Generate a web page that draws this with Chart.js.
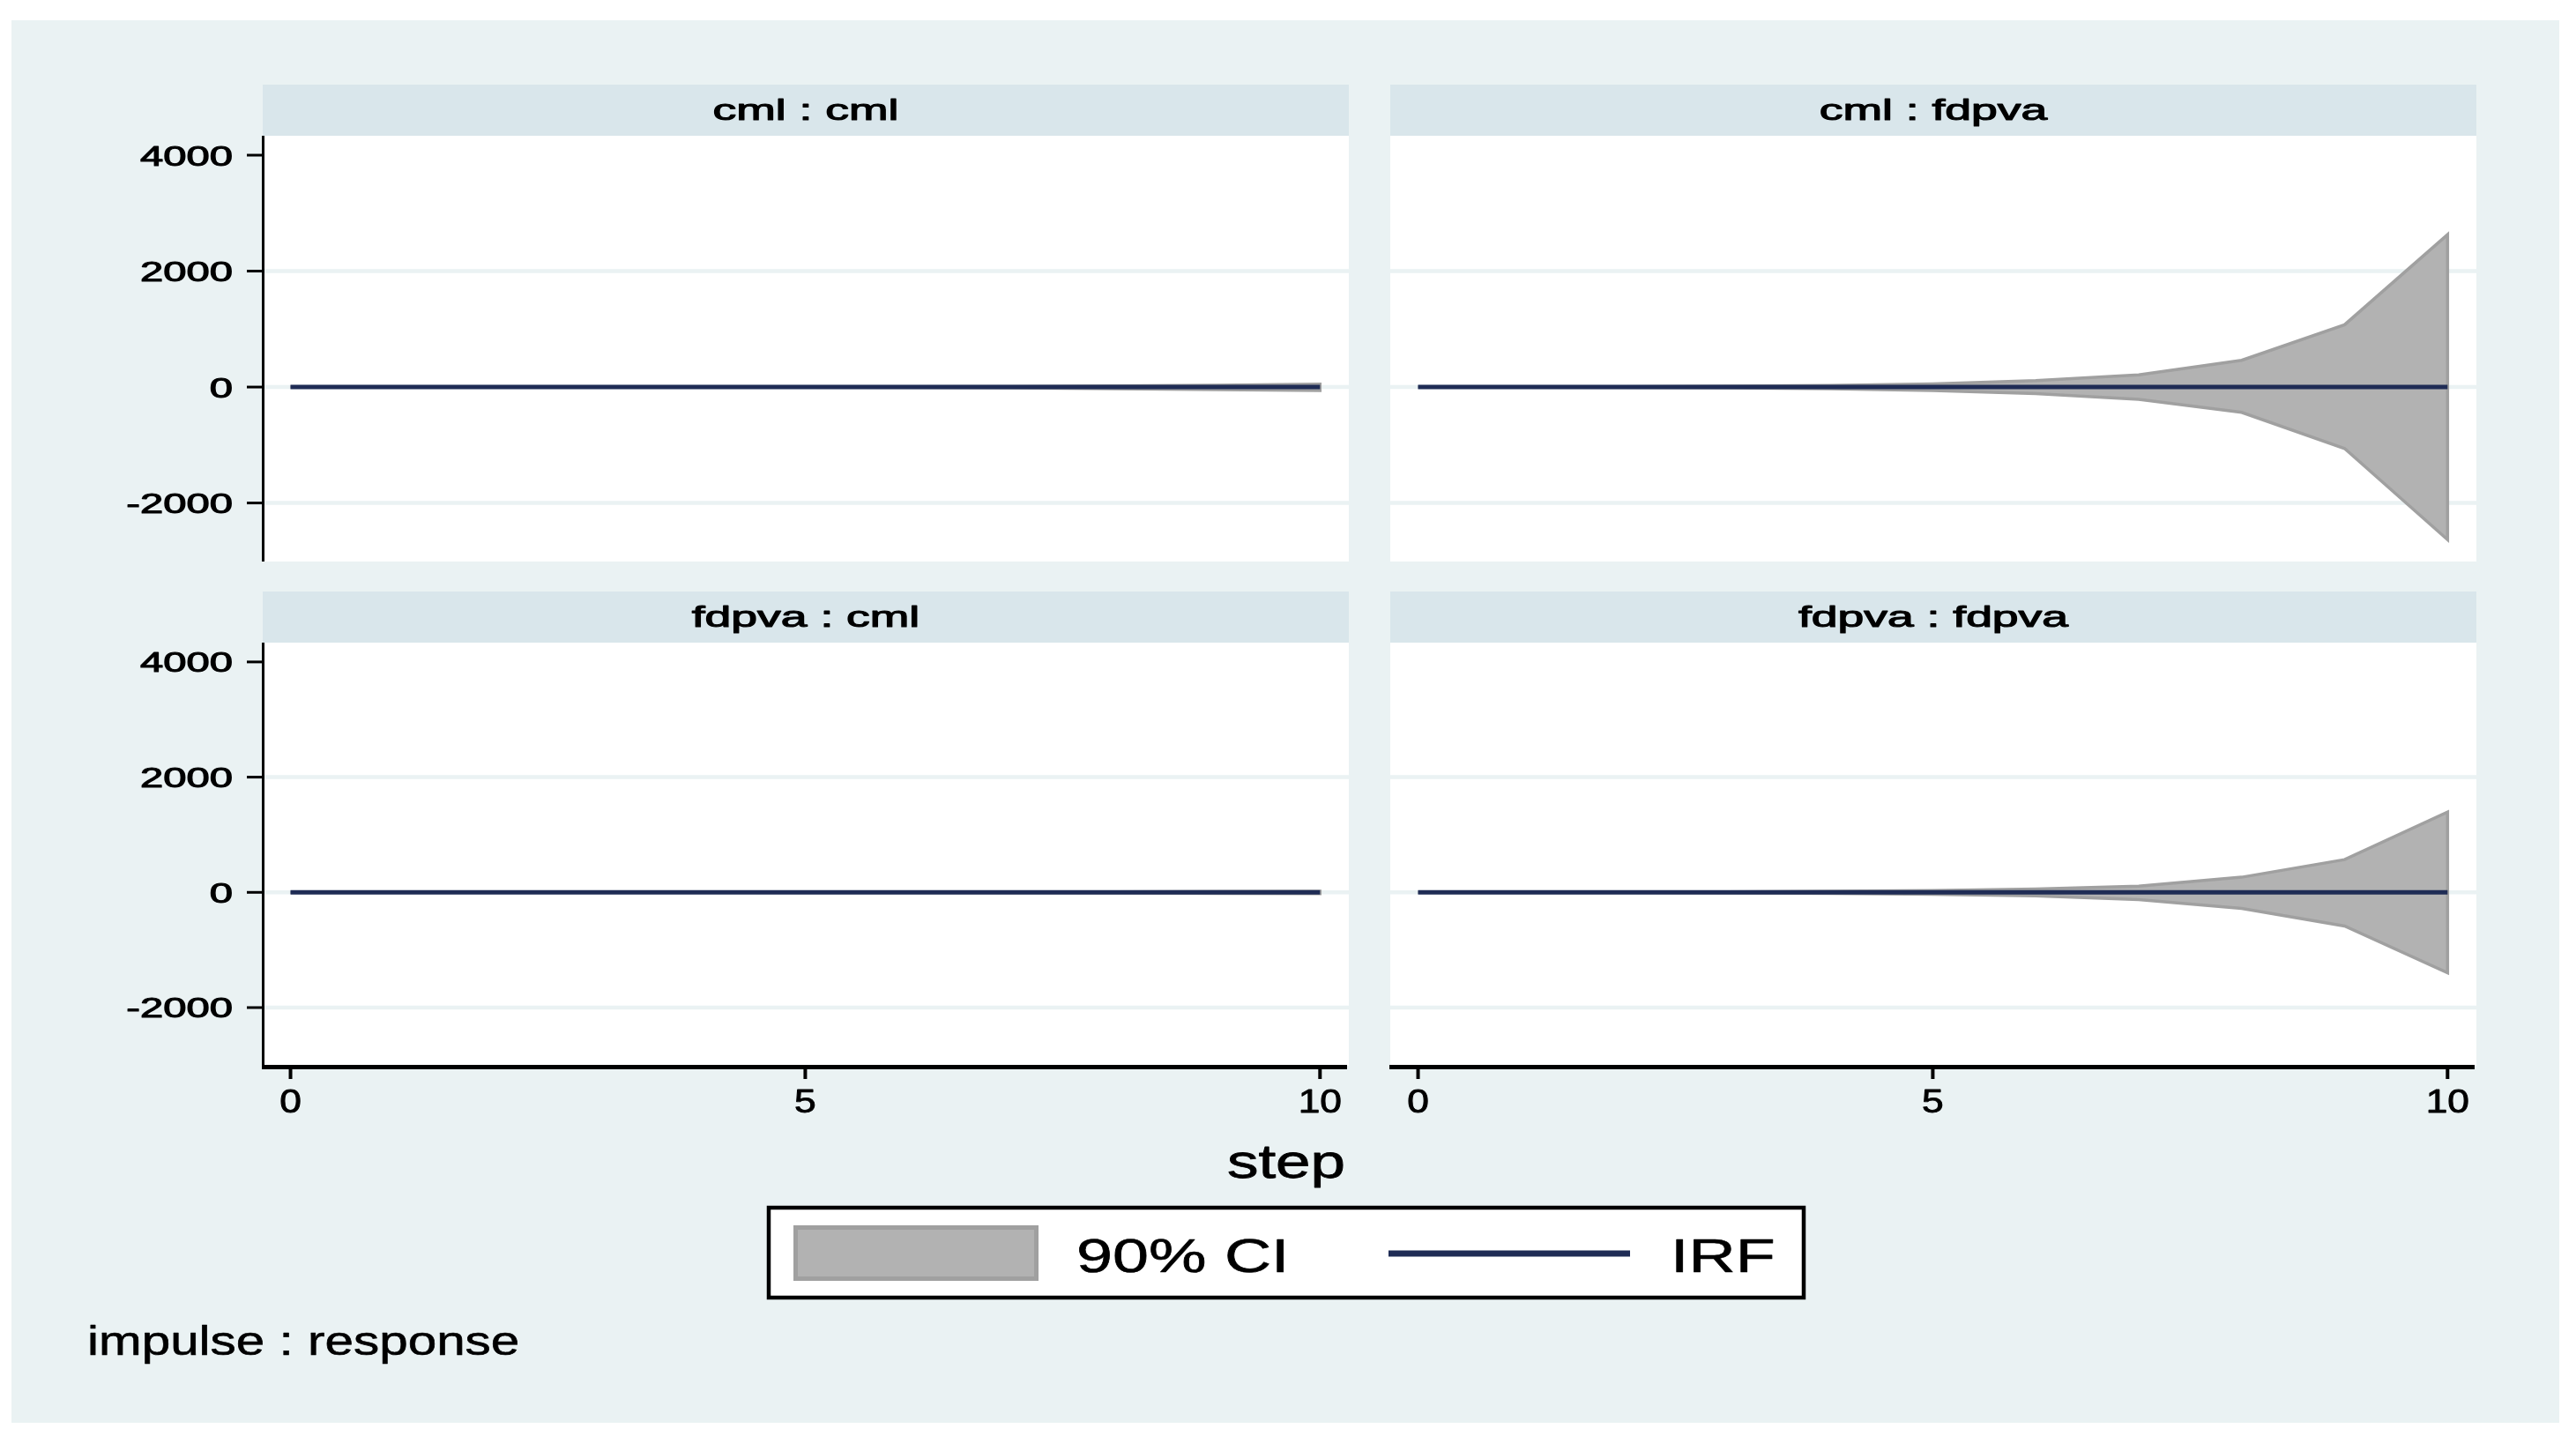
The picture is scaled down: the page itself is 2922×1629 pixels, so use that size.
<!DOCTYPE html>
<html>
<head>
<meta charset="utf-8">
<title>impulse : response</title>
<script src="https://cdn.jsdelivr.net/npm/chart.js@4/dist/chart.umd.min.js"></script>
<style>
  html, body { margin: 0; padding: 0; background: #ffffff; }
  #page { position: relative; width: 2922px; height: 1629px; overflow: hidden; }
  #outer { position: absolute; left: 13px; top: 23px; width: 2890px; height: 1591px; background: #eaf2f3; }
  canvas { position: absolute; left: 0; top: 0; }
</style>
</head>
<body>
<div id="page">
  <div id="outer"></div>
  <canvas id="p0" width="2922" height="1629"></canvas>
  <canvas id="p1" width="2922" height="1629"></canvas>
  <canvas id="p2" width="2922" height="1629"></canvas>
  <canvas id="p3" width="2922" height="1629"></canvas>
</div>
<script>
// Datos (IRF y bandas del 90%)
const steps = [0, 1, 2, 3, 4, 5, 6, 7, 8, 9, 10];
const xTicks = [0, 5, 10];
const yTicks = [-2000, 0, 2000, 4000];
const yGrid = [-2000, 0, 2000];
const panelTitles = ['cml : cml', 'cml : fdpva', 'fdpva : cml', 'fdpva : fdpva'];

const irfCmlCml = [0, 0, 0, 0, 0, 0, 0, 0, 0, 0, 0];
const hiCmlCml = [0, 0, 1, 1, 2, 3, 5, 10, 20, 32, 50];
const loCmlCml = [0, 0, -1, -1, -2, -4, -8, -15, -30, -45, -60];

const irfCmlFdpva = [0, 0, 0, 0, 0, 0, 0, 0, 0, 0, 0];
const hiCmlFdpva = [0, 2, 6, 15, 28, 55, 112, 210, 462, 1075, 2630];
const loCmlFdpva = [0, -2, -7, -16, -30, -58, -113, -213, -436, -1060, -2633];

const irfFdpvaCml = [0, 0, 0, 0, 0, 0, 0, 0, 0, 0, 0];
const hiFdpvaCml = [0, 0, 0, 1, 1, 2, 3, 5, 9, 15, 20];
const loFdpvaCml = [0, 0, 0, -1, -1, -2, -3, -6, -10, -18, -22];

const irfFdpvaFdpva = [0, 0, 0, 0, 0, 0, 0, 0, 0, 0, 0];
const hiFdpvaFdpva = [0, 2, 5, 10, 18, 32, 58, 108, 263, 568, 1394];
const loFdpvaFdpva = [0, -2, -5, -10, -18, -34, -62, -127, -280, -584, -1396];

const legendLabels = ['90% CI', 'IRF'];
const xTitle = 'step';
const noteText = 'impulse : response';

// Colores y fuente
const colorIRF = '#1f2c55';
const colorCI = '#b2b2b2';
const colorCIBorde = '#a0a0a0';
const colorCabecera = '#d9e6eb';
const colorGrid = '#eaf2f3';
const fuente = '"Liberation Sans", Arial, Helvetica, sans-serif';

// Posición de cada panel (área de trazado en píxeles de la página)
const paneles = [
    { left: 298, right: 1530, top: 154, bottom: 637, ejeY: true, ejeX: false },
    { left: 1577, right: 2809, top: 154, bottom: 637, ejeY: false, ejeX: false },
    { left: 298, right: 1530, top: 729, bottom: 1209, ejeY: true, ejeX: true },
    { left: 1577, right: 2809, top: 729, bottom: 1209, ejeY: false, ejeX: true }
];
const series = [
    [irfCmlCml, hiCmlCml, loCmlCml],
    [irfCmlFdpva, hiCmlFdpva, loCmlFdpva],
    [irfFdpvaCml, hiFdpvaCml, loFdpvaCml],
    [irfFdpvaFdpva, hiFdpvaFdpva, loFdpvaFdpva]
];

// Texto estirado en horizontal, como en la imagen original
function textoEstirado(ctx, txt, x, y, size, sx, align, grosor) {
    ctx.save();
    ctx.font = size + 'px ' + fuente;
    ctx.fillStyle = '#000000';
    ctx.strokeStyle = '#000000';
    ctx.textBaseline = 'alphabetic';
    ctx.textAlign = 'left';
    const w = ctx.measureText(txt).width * sx;
    let x0 = x;
    if (align === 'center') x0 = x - w / 2;
    if (align === 'right') x0 = x - w;
    ctx.translate(x0, y);
    ctx.scale(sx, 1);
    ctx.fillText(txt, 0, 0);
    if (grosor) {
        ctx.lineWidth = grosor;
        ctx.lineJoin = 'round';
        ctx.strokeText(txt, 0, 0);
    }
    ctx.restore();
}

// Fondo, cabecera y rejilla del panel
const decoPanel = {
    id: 'decoPanel',
    beforeDraw(chart, args, opts) {
        const ctx = chart.ctx;
        const a = chart.chartArea;
        const y = chart.scales.y;
        ctx.save();
        ctx.fillStyle = '#ffffff';
        ctx.fillRect(a.left, a.top, a.right - a.left, a.bottom - a.top);
        ctx.fillStyle = colorCabecera;
        ctx.fillRect(a.left, a.top - 58, a.right - a.left, 58);
        ctx.strokeStyle = colorGrid;
        ctx.lineWidth = 4.5;
        yGrid.forEach(v => {
            const py = y.getPixelForValue(v);
            ctx.beginPath();
            ctx.moveTo(a.left, py);
            ctx.lineTo(a.right, py);
            ctx.stroke();
        });
        ctx.restore();
        textoEstirado(ctx, opts.titulo, (a.left + a.right) / 2, a.top - 18, 33, 1.62, 'center', 1.1);
    },
    afterDraw(chart, args, opts) {
        const ctx = chart.ctx;
        const a = chart.chartArea;
        const x = chart.scales.x;
        const y = chart.scales.y;
        ctx.save();
        ctx.strokeStyle = '#000000';
        if (opts.ejeY) {
            ctx.lineWidth = 3;
            ctx.beginPath();
            ctx.moveTo(a.left + 0.5, a.top);
            ctx.lineTo(a.left + 0.5, a.bottom);
            ctx.stroke();
            yTicks.forEach(v => {
                const py = y.getPixelForValue(v);
                ctx.beginPath();
                ctx.moveTo(280, py);
                ctx.lineTo(a.left, py);
                ctx.stroke();
                textoEstirado(ctx, String(v), 264, py + 11.5, 32, 1.475, 'right', 1.1);
            });
        }
        if (opts.ejeX) {
            ctx.lineWidth = 5;
            ctx.beginPath();
            ctx.moveTo(a.left - 1, a.bottom + 1.5);
            ctx.lineTo(a.right - 2, a.bottom + 1.5);
            ctx.stroke();
            ctx.lineWidth = 4;
            xTicks.forEach(v => {
                const px = x.getPixelForValue(v);
                ctx.beginPath();
                ctx.moveTo(px, a.bottom + 3);
                ctx.lineTo(px, a.bottom + 15);
                ctx.stroke();
                textoEstirado(ctx, String(v), px, a.bottom + 53, 36, 1.23, 'center', 0.9);
            });
        }
        ctx.restore();
    }
};

// Elementos de la página: título del eje, leyenda y nota
const decoPagina = {
    id: 'decoPagina',
    afterDraw(chart, args, opts) {
        if (!opts.activo) return;
        const ctx = chart.ctx;
        textoEstirado(ctx, xTitle, 1459, 1336, 53, 1.34, 'center', 0.8);

        ctx.save();
        ctx.fillStyle = '#ffffff';
        ctx.fillRect(870, 1368, 1178, 106);
        ctx.strokeStyle = '#000000';
        ctx.lineWidth = 4.5;
        ctx.strokeRect(872, 1370, 1174, 102);
        ctx.fillStyle = colorCI;
        ctx.fillRect(900, 1390, 278, 63);
        ctx.strokeStyle = colorCIBorde;
        ctx.lineWidth = 5;
        ctx.strokeRect(902.5, 1392.5, 273, 58);
        ctx.strokeStyle = colorIRF;
        ctx.lineWidth = 7;
        ctx.beginPath();
        ctx.moveTo(1575, 1422);
        ctx.lineTo(1849, 1422);
        ctx.stroke();
        ctx.restore();
        textoEstirado(ctx, legendLabels[0], 1221, 1443, 53, 1.39, 'left', 0.6);
        textoEstirado(ctx, legendLabels[1], 1895, 1443, 53, 1.39, 'left', 0.6);

        textoEstirado(ctx, noteText, 99, 1537, 46, 1.27, 'left', 0.6);
    }
};

Chart.register(decoPanel, decoPagina);

paneles.forEach((p, i) => {
    const [irf, hi, lo] = series[i];
    // Banda: borde superior y luego el inferior en sentido inverso
    const banda = steps.map((s, k) => ({ x: s, y: hi[k] }))
        .concat(steps.slice().reverse().map((s, k) => ({ x: s, y: lo[lo.length - 1 - k] })));
    const linea = steps.map((s, k) => ({ x: s, y: irf[k] }));

    new Chart(document.getElementById('p' + i), {
        type: 'line',
        data: {
            datasets: [
                {
                    label: 'IRF',
                    data: linea,
                    borderColor: colorIRF,
                    borderWidth: 5,
                    pointRadius: 0,
                    fill: false,
                    tension: 0,
                    order: 0
                },
                {
                    label: '90% CI',
                    data: banda,
                    borderColor: colorCIBorde,
                    backgroundColor: colorCI,
                    borderWidth: 3.5,
                    pointRadius: 0,
                    fill: 'shape',
                    tension: 0,
                    order: 1
                }
            ]
        },
        options: {
            responsive: false,
            animation: false,
            devicePixelRatio: 1,
            events: [],
            layout: {
                padding: { left: p.left, right: 2922 - p.right, top: p.top, bottom: 1629 - p.bottom }
            },
            scales: {
                x: { type: 'linear', min: -0.27, max: 10.28, display: false },
                y: { type: 'linear', min: -3010, max: 4335, display: false }
            },
            plugins: {
                legend: { display: false },
                tooltip: { enabled: false },
                decoPanel: { titulo: panelTitles[i], ejeY: p.ejeY, ejeX: p.ejeX },
                decoPagina: { activo: i === 3 }
            }
        }
    });
});
</script>
</body>
</html>
